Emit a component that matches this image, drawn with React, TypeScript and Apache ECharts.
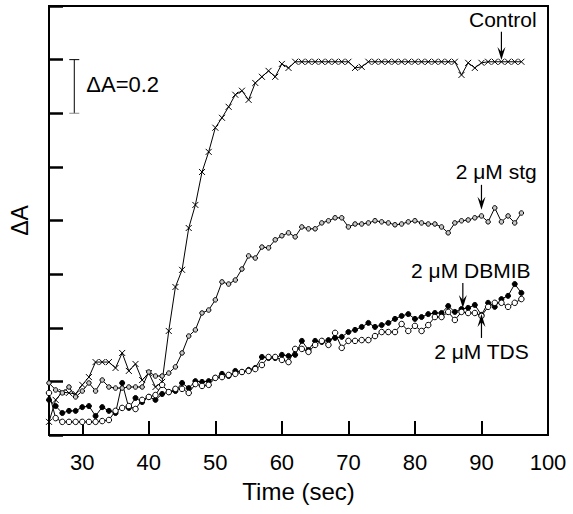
import React, { useEffect, useRef } from "react";
import * as echarts from "echarts";

// Time (sec) of each sample
const TIME = [
  25, 26, 27, 28, 29, 30, 31, 32, 33, 34, 35, 36, 37, 38, 39, 40, 41, 42, 43, 44,
  45, 46, 47, 48, 49, 50, 51, 52, 53, 54, 55, 56, 57, 58, 59, 60, 61, 62, 63, 64,
  65, 66, 67, 68, 69, 70, 71, 72, 73, 74, 75, 76, 77, 78, 79, 80, 81, 82, 83, 84,
  85, 86, 87, 88, 89, 90, 91, 92, 93, 94, 95, 96,
];

// ΔA values
const CONTROL = [
  0.049, 0.131, 0.16, 0.157, 0.153, 0.187, 0.216, 0.272, 0.272, 0.272, 0.25, 0.306, 0.239, 0.265, 0.205, 0.231, 0.179, 0.198, 0.388, 0.552,
  0.616, 0.772, 0.858, 0.981, 1.056, 1.146, 1.183, 1.224, 1.269, 1.284, 1.25, 1.313, 1.336, 1.358, 1.336, 1.384, 1.369, 1.392, 1.392, 1.392,
  1.392, 1.392, 1.392, 1.392, 1.392, 1.392, 1.369, 1.373, 1.392, 1.392, 1.392, 1.392, 1.392, 1.392, 1.392, 1.392, 1.392, 1.392, 1.392, 1.392,
  1.392, 1.392, 1.343, 1.388, 1.369, 1.388, 1.392, 1.392, 1.392, 1.392, 1.392, 1.392,
];

const STG = [
  0.194, 0.168, 0.157, 0.179, 0.142, 0.164, 0.194, 0.164, 0.205, 0.179, 0.175, 0.175, 0.179, 0.179, 0.179, 0.235, 0.22, 0.22, 0.231, 0.254,
  0.306, 0.369, 0.392, 0.455, 0.466, 0.504, 0.571, 0.563, 0.578, 0.619, 0.668, 0.66, 0.701, 0.698, 0.728, 0.743, 0.754, 0.739, 0.776, 0.769,
  0.769, 0.791, 0.799, 0.81, 0.81, 0.776, 0.787, 0.787, 0.791, 0.799, 0.795, 0.791, 0.784, 0.787, 0.795, 0.799, 0.791, 0.787, 0.787, 0.776,
  0.754, 0.791, 0.799, 0.802, 0.81, 0.817, 0.795, 0.847, 0.795, 0.817, 0.791, 0.828,
];

const DBMIB = [
  0.131, 0.108, 0.082, 0.09, 0.09, 0.104, 0.108, 0.071, 0.104, 0.09, 0.082, 0.194, 0.101, 0.138, 0.123, 0.142, 0.131, 0.153, 0.16, 0.164,
  0.194, 0.175, 0.201, 0.198, 0.201, 0.213, 0.228, 0.22, 0.239, 0.235, 0.243, 0.25, 0.291, 0.287, 0.287, 0.299, 0.295, 0.299, 0.351, 0.317,
  0.351, 0.347, 0.354, 0.362, 0.366, 0.384, 0.392, 0.403, 0.418, 0.403, 0.41, 0.418, 0.433, 0.444, 0.451, 0.433, 0.44, 0.451, 0.455, 0.455,
  0.481, 0.459, 0.47, 0.474, 0.485, 0.448, 0.493, 0.478, 0.507, 0.519, 0.563, 0.53,
];

const TDS = [
  0.157, 0.063, 0.049, 0.049, 0.049, 0.049, 0.049, 0.049, 0.052, 0.056, 0.09, 0.101, 0.108, 0.097, 0.131, 0.142, 0.149, 0.187, 0.16, 0.172,
  0.172, 0.157, 0.19, 0.183, 0.187, 0.213, 0.216, 0.224, 0.228, 0.235, 0.239, 0.246, 0.261, 0.291, 0.291, 0.28, 0.272, 0.321, 0.321, 0.31,
  0.336, 0.351, 0.336, 0.381, 0.325, 0.351, 0.351, 0.354, 0.354, 0.369, 0.384, 0.384, 0.384, 0.414, 0.388, 0.407, 0.388, 0.41, 0.44, 0.44,
  0.459, 0.429, 0.459, 0.455, 0.455, 0.444, 0.478, 0.493, 0.493, 0.478, 0.493, 0.507,
];

const X_TICKS = [30, 40, 50, 60, 70, 80, 90, 100];

// Annotations (data coordinates): label text, label anchor, arrow from -> to
const LABELS = [
  { text: "Control", x: 98.3, y: 1.549, align: "right", ax: 93.0, ay1: 1.504, ay2: 1.399 },
  { text: "2 \u03bcM stg", x: 98.3, y: 0.981, align: "right", ax: 90.0, ay1: 0.933, ay2: 0.84 },
  { text: "2 \u03bcM DBMIB", x: 88.4, y: 0.612, align: "center", ax: 87.2, ay1: 0.567, ay2: 0.474 },
  { text: "2 \u03bcM TDS", x: 90.0, y: 0.31, align: "center", ax: 90.0, ay1: 0.362, ay2: 0.451 },
];
const SCALE_BAR = { x: 28.8, y1: 1.2, y2: 1.4, text: "\u0394A=0.2", tx: 30.6, ty: 1.306 };

const FONT = "'Liberation Sans', Arial, Helvetica, sans-serif";

const X_SYMBOL = "path://M0,0L10,10M10,0L0,10";

export default function App() {
  const ref = useRef<HTMLDivElement>(null);
  useEffect(() => {
    if (!ref.current) return;
    const chart = echarts.init(ref.current, null, { renderer: "svg" });
    const mk = (vals: number[]) => TIME.map((t, i) => [t, vals[i]]);
    const baseLine = { color: "#000", width: 1 };
    chart.setOption({
      animation: false,
      backgroundColor: "#fff",
      grid: {
        left: 43,
        right: 25,
        top: 6,
        bottom: 79,
        show: true,
        borderColor: "#000",
        borderWidth: 2,
        containLabel: false,
      },
      xAxis: {
        type: "value",
        min: 25,
        max: 100,
        name: "Time (sec)",
        nameLocation: "middle",
        nameGap: 44,
        nameTextStyle: { fontFamily: FONT, fontSize: 24, color: "#000" },
        axisLine: { show: true, lineStyle: { color: "#000", width: 2 } },
        axisTick: {
          show: true,
          inside: true,
          length: 14,
          lineStyle: { color: "#000", width: 2 },
          customValues: X_TICKS,
        },
        axisLabel: {
          show: true,
          customValues: X_TICKS,
          margin: 16,
          fontFamily: FONT,
          fontSize: 22,
          color: "#000",
        },
        splitLine: { show: false },
      },
      yAxis: {
        type: "value",
        min: 0,
        max: 1.6,
        interval: 0.2,
        name: "\u0394A",
        nameLocation: "middle",
        nameGap: 18,
        nameRotate: 90,
        nameTextStyle: { fontFamily: FONT, fontSize: 23, color: "#000" },
        axisLine: { show: true, lineStyle: { color: "#000", width: 2 } },
        axisTick: { show: true, inside: true, length: 14, lineStyle: { color: "#000", width: 2.5 } },
        axisLabel: { show: false },
        splitLine: { show: false },
      },
      series: [
        {
          name: "Control",
          type: "line",
          data: mk(CONTROL),
          symbol: X_SYMBOL,
          symbolSize: 6,
          showAllSymbol: true,
          lineStyle: baseLine,
          itemStyle: { color: "#000", borderColor: "#000", borderWidth: 1 },
          z: 3,
        },
        {
          name: "2 \u03bcM stg",
          type: "line",
          data: mk(STG),
          symbol: "circle",
          symbolSize: 4.5,
          showAllSymbol: true,
          lineStyle: baseLine,
          itemStyle: { color: "#c8c8c8", borderColor: "#000", borderWidth: 1 },
          z: 3,
        },
        {
          name: "2 \u03bcM DBMIB",
          type: "line",
          data: mk(DBMIB),
          symbol: "circle",
          symbolSize: 5,
          showAllSymbol: true,
          lineStyle: baseLine,
          itemStyle: { color: "#000", borderColor: "#000", borderWidth: 1 },
          z: 3,
        },
        {
          name: "2 \u03bcM TDS",
          type: "line",
          data: mk(TDS),
          symbol: "circle",
          symbolSize: 5.5,
          showAllSymbol: true,
          lineStyle: baseLine,
          itemStyle: { color: "#fff", borderColor: "#000", borderWidth: 1 },
          z: 4,
        },
      ],
    });

    const px = (x: number, y: number) => chart.convertToPixel({ gridIndex: 0 }, [x, y]) as number[];
    const graphics: any[] = [];
    LABELS.forEach((l) => {
      const tp = px(l.x, l.y);
      graphics.push({
        type: "text",
        x: tp[0],
        y: tp[1],
        style: { text: l.text, fontFamily: FONT, fontSize: 21, fill: "#000", align: l.align, verticalAlign: "middle" },
        z: 10,
      });
      const a1 = px(l.ax, l.ay1);
      const a2 = px(l.ax, l.ay2);
      const dir = a2[1] > a1[1] ? 1 : -1;
      graphics.push({
        type: "line",
        shape: { x1: a1[0], y1: a1[1], x2: a2[0], y2: a2[1] - dir * 6 },
        style: { stroke: "#000", lineWidth: 1.2 },
        z: 10,
      });
      graphics.push({
        type: "polygon",
        shape: {
          points: [
            [a2[0], a2[1]],
            [a2[0] - 4, a2[1] - dir * 13],
            [a2[0], a2[1] - dir * 8],
            [a2[0] + 4, a2[1] - dir * 13],
          ],
        },
        style: { fill: "#000" },
        z: 10,
      });
    });
    const s1 = px(SCALE_BAR.x, SCALE_BAR.y1);
    const s2 = px(SCALE_BAR.x, SCALE_BAR.y2);
    graphics.push({ type: "line", shape: { x1: s1[0], y1: s1[1], x2: s2[0], y2: s2[1] }, style: { stroke: "#000", lineWidth: 1 }, z: 10 });
    graphics.push({ type: "line", shape: { x1: s1[0] - 5, y1: s1[1], x2: s1[0] + 5, y2: s1[1] }, style: { stroke: "#888", lineWidth: 1 }, z: 10 });
    graphics.push({ type: "line", shape: { x1: s2[0] - 5, y1: s2[1], x2: s2[0] + 5, y2: s2[1] }, style: { stroke: "#000", lineWidth: 1 }, z: 10 });
    const st = px(SCALE_BAR.tx, SCALE_BAR.ty);
    graphics.push({
      type: "text",
      x: st[0],
      y: st[1],
      style: { text: SCALE_BAR.text, fontFamily: FONT, fontSize: 22, fill: "#000", align: "left", verticalAlign: "middle" },
      z: 10,
    });
    chart.setOption({ graphic: graphics });

    return () => chart.dispose();
  }, []);
  return (
    <div
      ref={ref}
      style={{ position: "absolute", left: 0, top: 0, width: 573, height: 514, background: "#fff" }}
    />
  );
}
